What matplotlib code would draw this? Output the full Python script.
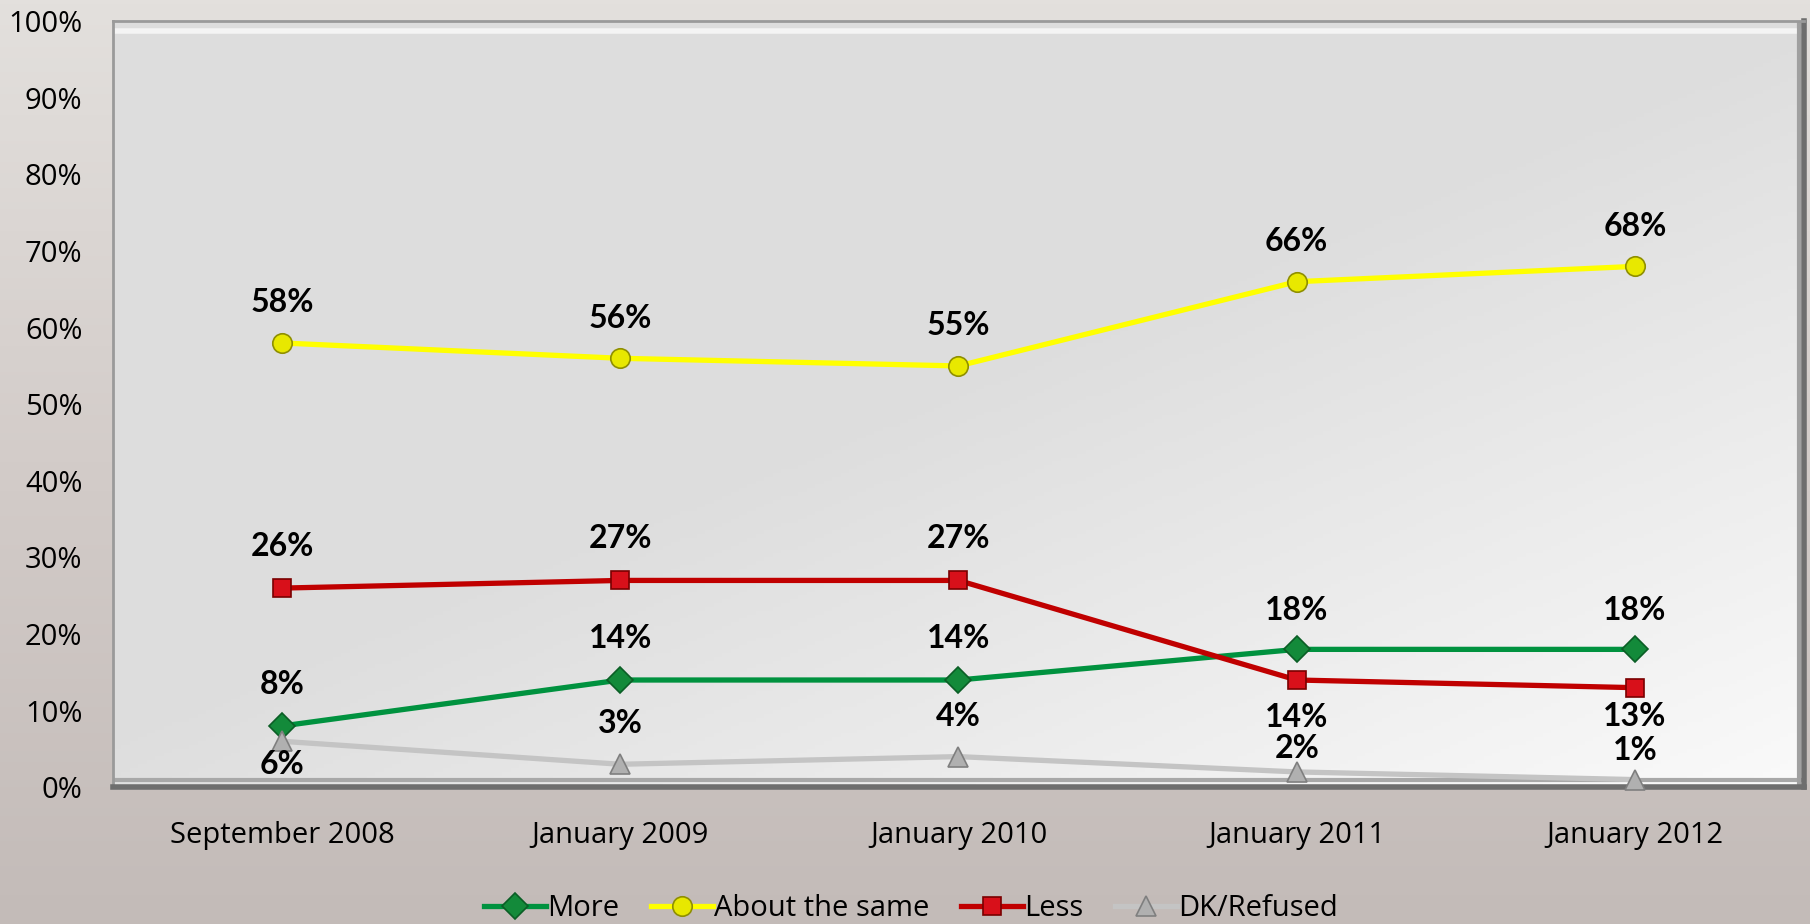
import numpy as np
import matplotlib
matplotlib.use('Agg')
import matplotlib.pyplot as plt
from matplotlib.colors import LinearSegmentedColormap
from matplotlib.ticker import FuncFormatter

plt.rcParams['font.family'] = ['Open Sans', 'DejaVu Sans']

# ---- data ----
periods = ['September 2008', 'January 2009', 'January 2010', 'January 2011', 'January 2012']
more = [8, 14, 14, 18, 18]
same = [58, 56, 55, 66, 68]
less = [26, 27, 27, 14, 13]
dk = [6, 3, 4, 2, 1]

# ---- styling: series look + label offsets (points, + above / - below) ----
SERIES = [
    ('More', more, dict(color='#00923f', marker='D', mfc='#138a3a', mec='#0b5e26', ms=13),
     [30, 30, 30, 28, 28]),
    ('About the same', same, dict(color='#ffff00', marker='o', mfc='#e8e800', mec='#8f8f00', ms=14),
     [29, 29, 29, 29, 29]),
    ('Less', less, dict(color='#c00000', marker='s', mfc='#d8101a', mec='#7a0000', ms=13),
     [30, 30, 30, -27, -21]),
    ('DK/Refused', dk, dict(color='#c4c4c4', marker='^', mfc='#b0b0b0', mec='#7f7f7f', ms=14),
     [-17, 29, 29, 17, 21]),
]

fig = plt.figure(figsize=(18.1, 9.24), dpi=100)

# page background: warm grey, lighter at the top
bg = fig.add_axes([0, 0, 1, 1], zorder=-10)
bg_cmap = LinearSegmentedColormap.from_list('bg', ['#e3e0dd', '#d3ccc9', '#c3bbb8'])
bg.imshow(np.linspace(0, 1, 256).reshape(-1, 1), aspect='auto', cmap=bg_cmap,
          extent=[0, 1, 0, 1])
bg.set_axis_off()

ax = fig.add_axes([0.0624, 0.148, 0.9343, 0.829])
x = np.arange(len(periods))

# plot area fill: diagonal grey-to-white gradient
gx, gy = np.meshgrid(np.linspace(0, 1, 200), np.linspace(0, 1, 200))
grad = np.clip(0.55 * gx + 0.6 * gy - 0.55, 0, 1)
pa_cmap = LinearSegmentedColormap.from_list('pa', ['#dddddd', '#fafafa'])
ax.imshow(grad, cmap=pa_cmap, extent=[-0.5, 4.5, 0, 100], aspect='auto',
          origin='upper', zorder=0)

for name, vals, st, offs in SERIES:
    ax.plot(x, vals, color=st['color'], lw=3.8, marker=st['marker'],
            markerfacecolor=st['mfc'], markeredgecolor=st['mec'], markeredgewidth=1.2,
            markersize=st['ms'], label=name, zorder=3, clip_on=False)
    for xi, v, o in zip(x, vals, offs):
        ax.annotate(f'{v}%', (xi, v), xytext=(0, o), textcoords='offset points',
                    ha='center', va='center', fontsize=23, fontweight='bold',
                    family=['Lato', 'DejaVu Sans'], color='black', zorder=5)

ax.set_xlim(-0.5, 4.5)
ax.set_ylim(0, 100)
ax.set_yticks(np.arange(0, 101, 10))
ax.yaxis.set_major_formatter(FuncFormatter(lambda v, p: f'{v:.0f}%'))
ax.set_xticks(x)
ax.set_xticklabels(periods)
ax.tick_params(axis='both', length=0, labelsize=21, colors='black')
ax.tick_params(axis='y', pad=22)
ax.tick_params(axis='x', pad=24)

# bevelled frame
for s in ['top', 'left']:
    ax.spines[s].set_color('#9a9a9a')
    ax.spines[s].set_linewidth(2)
for s in ['right', 'bottom']:
    ax.spines[s].set_color('#6e6e6e')
    ax.spines[s].set_linewidth(4)
ax.plot([-0.5, 4.5], [98.7, 98.7], color='#f4f4f4', lw=4, zorder=1, solid_capstyle='butt')
ax.plot([-0.5, 4.5], [1.0, 1.0], color='#a8a8a8', lw=3, zorder=1, solid_capstyle='butt')
ax.plot([4.485, 4.485], [0, 100], color='#a0a0a0', lw=3, zorder=1, solid_capstyle='butt')

leg = ax.legend(loc='center', bbox_to_anchor=(0.472, -0.158), ncol=4, frameon=False,
                fontsize=21, handlelength=2.1, handletextpad=0.05, columnspacing=1.1,
                borderpad=0.1)

fig.savefig('out.png', dpi=100)
